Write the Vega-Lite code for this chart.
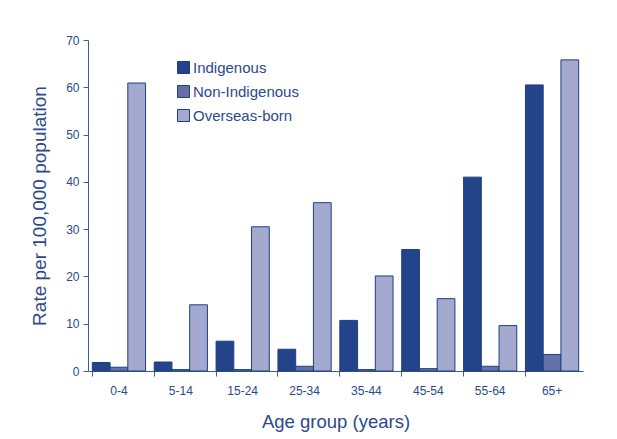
{
  "$schema": "https://vega.github.io/schema/vega-lite/v6.json",
  "width": 495,
  "height": 331,
  "autosize": {"type": "none"},
  "padding": {"left": 88, "top": 40, "right": 34, "bottom": 68},
  "background": "white",
  "config": {
    "font": "Liberation Sans",
    "view": {"stroke": null},
    "axis": {"labelColor": "#2a4a8a", "titleColor": "#2a4a8a", "domainColor": "#3d5c9a", "tickColor": "#3d5c9a", "grid": false, "labelFont": "Liberation Sans", "titleFont": "Liberation Sans", "titleFontWeight": "normal"},
    "legend": {"labelColor": "#2a4a8a", "labelFont": "Liberation Sans"}
  },
  "data": {"values": [
    {"age": "0-4", "group": "Indigenous", "rate": 1.8},
    {"age": "0-4", "group": "Non-Indigenous", "rate": 0.8},
    {"age": "0-4", "group": "Overseas-born", "rate": 60.9},
    {"age": "5-14", "group": "Indigenous", "rate": 1.9},
    {"age": "5-14", "group": "Non-Indigenous", "rate": 0.3},
    {"age": "5-14", "group": "Overseas-born", "rate": 14.0},
    {"age": "15-24", "group": "Indigenous", "rate": 6.3},
    {"age": "15-24", "group": "Non-Indigenous", "rate": 0.3},
    {"age": "15-24", "group": "Overseas-born", "rate": 30.5},
    {"age": "25-34", "group": "Indigenous", "rate": 4.6},
    {"age": "25-34", "group": "Non-Indigenous", "rate": 1.0},
    {"age": "25-34", "group": "Overseas-born", "rate": 35.6},
    {"age": "35-44", "group": "Indigenous", "rate": 10.7},
    {"age": "35-44", "group": "Non-Indigenous", "rate": 0.3},
    {"age": "35-44", "group": "Overseas-born", "rate": 20.1},
    {"age": "45-54", "group": "Indigenous", "rate": 25.7},
    {"age": "45-54", "group": "Non-Indigenous", "rate": 0.5},
    {"age": "45-54", "group": "Overseas-born", "rate": 15.3},
    {"age": "55-64", "group": "Indigenous", "rate": 41.0},
    {"age": "55-64", "group": "Non-Indigenous", "rate": 1.0},
    {"age": "55-64", "group": "Overseas-born", "rate": 9.6},
    {"age": "65+", "group": "Indigenous", "rate": 60.5},
    {"age": "65+", "group": "Non-Indigenous", "rate": 3.5},
    {"age": "65+", "group": "Overseas-born", "rate": 65.8}
  ]},
  "mark": {"type": "bar", "stroke": "#1f3f80", "strokeWidth": 1},
  "encoding": {
    "x": {
      "field": "age", "type": "nominal", "sort": null,
      "scale": {"paddingInner": 0.14, "paddingOuter": 0.07},
      "axis": {"title": "Age group (years)", "labelAngle": 0, "labelFontSize": 12, "labelPadding": 9, "titleFontSize": 18.5, "titlePadding": 16, "bandPosition": 0, "tickSize": 5, "labelBound": false}
    },
    "xOffset": {"field": "group", "type": "nominal", "sort": ["Indigenous", "Non-Indigenous", "Overseas-born"]},
    "y": {
      "field": "rate", "type": "quantitative",
      "scale": {"domain": [0, 70], "nice": false},
      "axis": {"title": "Rate per 100,000 population", "values": [0, 10, 20, 30, 40, 50, 60, 70], "labelFontSize": 12, "titleFontSize": 19, "titlePadding": 16, "tickSize": 5, "labelPadding": 4}
    },
    "color": {
      "field": "group", "type": "nominal",
      "scale": {"domain": ["Indigenous", "Non-Indigenous", "Overseas-born"], "range": ["#23448a", "#6670a8", "#a4aacf"]},
      "legend": {"title": null, "orient": "none", "legendX": 88, "legendY": 20, "symbolType": "square", "symbolSize": 144, "symbolStrokeColor": "#1f3f80", "symbolStrokeWidth": 1, "labelFontSize": 15, "rowPadding": 7, "labelOffset": 2}
    }
  }
}
